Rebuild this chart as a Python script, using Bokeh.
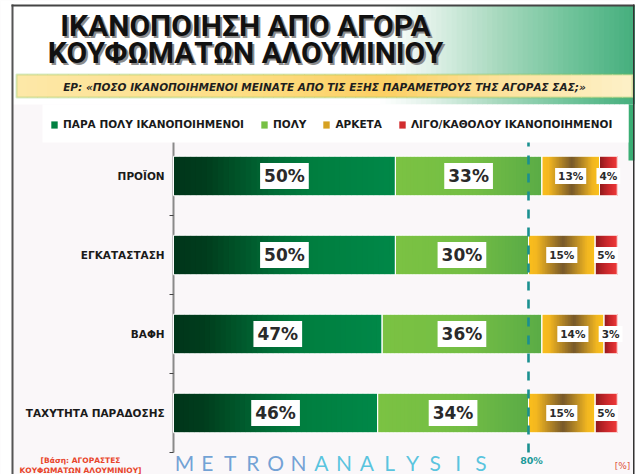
import numpy as np
from bokeh.plotting import figure
from bokeh.models import (Range1d, ColumnDataSource, Label, BoxAnnotation, Legend, LegendItem)
from bokeh.embed import file_html
from bokeh.resources import INLINE
from bokeh.core.properties import value

# ---------------- data ----------------
title_lines = ["ΙΚΑΝΟΠΟΙΗΣΗ ΑΠΟ ΑΓΟΡΑ", "ΚΟΥΦΩΜΑΤΩΝ ΑΛΟΥΜΙΝΙΟΥ"]
question = "ΕΡ: «ΠΟΣΟ ΙΚΑΝΟΠΟΙΗΜΕΝΟΙ ΜΕΙΝΑΤΕ ΑΠΟ ΤΙΣ ΕΞΗΣ ΠΑΡΑΜΕΤΡΟΥΣ ΤΗΣ ΑΓΟΡΑΣ ΣΑΣ;»"
categories = ["ΠΡΟΪΟΝ", "ΕΓΚΑΤΑΣΤΑΣΗ", "ΒΑΦΗ", "ΤΑΧΥΤΗΤΑ ΠΑΡΑΔΟΣΗΣ"]
series_names = ["ΠΑΡΑ ΠΟΛΥ ΙΚΑΝΟΠΟΙΗΜΕΝΟΙ", "ΠΟΛΥ", "ΑΡΚΕΤΑ", "ΛΙΓΟ/ΚΑΘΟΛΟΥ ΙΚΑΝΟΠΟΙΗΜΕΝΟΙ"]
para_poly = [50, 50, 47, 46]
poly = [33, 30, 36, 34]
arketa = [13, 15, 14, 15]
ligo = [4, 5, 3, 5]
threshold = 80
threshold_label = "80%"
base_lines = ["[Βάση: ΑΓΟΡΑΣΤΕΣ", "ΚΟΥΦΩΜΑΤΩΝ ΑΛΟΥΜΙΝΙΟΥ]"]
unit_label = "[%]"
brand_parts = ["METRON", "ANALYSIS"]

series_values = [para_poly, poly, arketa, ligo]

# gradient stops for each series (left -> right inside a segment)
grad_stops = [
    [(0, "#00351a"), (0.15, "#003d1d"), (0.45, "#006c36"), (0.62, "#007e3f"), (1, "#008848")],
    [(0, "#7bc243"), (0.55, "#74be44"), (1, "#5aab46")],
    [(0, "#fbbf1c"), (0.12, "#f3b720"), (0.52, "#77582a"), (0.88, "#f1b621"), (1, "#fbc21b")],
    [(0, "#8c1a1d"), (0.45, "#c4272b"), (1, "#f03a3a")],
]


def hex2rgb(h):
    h = h.lstrip("#")
    return np.array([int(h[i:i + 2], 16) for i in (0, 2, 4)], dtype=float)


def grad_color(stops, t):
    t = min(max(t, 0.0), 1.0)
    for (t0, c0), (t1, c1) in zip(stops[:-1], stops[1:]):
        if t <= t1:
            f = 0 if t1 == t0 else (t - t0) / (t1 - t0)
            c = hex2rgb(c0) * (1 - f) + hex2rgb(c1) * f
            return "#%02x%02x%02x" % tuple(int(round(v)) for v in c)
    return stops[-1][1]


# ---------------- geometry ----------------
W, H = 635, 474
FL = 173            # canvas x of the 0 % line
PPP = 355 / 80      # pixels per percent
ROW = 79            # pixels per category row
Y0 = 452            # canvas y of the lowest category boundary
BG = "#faf7f9"
n = len(categories)
ypos = [n - 1 - i + 0.5 for i in range(n)]

p = figure(width=W, height=H,
           x_range=Range1d(-FL / PPP, (W - FL) / PPP),
           y_range=Range1d(-(H - Y0) / ROW, Y0 / ROW),
           x_axis_location=None, y_axis_location=None,
           toolbar_location=None, output_backend="svg", min_border=0)
p.background_fill_color = BG
p.border_fill_color = BG
p.outline_line_color = None
p.grid.visible = False


def box(x0, y0, x1, y1, color, alpha=1.0, line=None, lw=1, level="underlay"):
    b = BoxAnnotation(left=x0, right=x1, top=H - y0, bottom=H - y1,
                      left_units="screen", right_units="screen",
                      top_units="screen", bottom_units="screen",
                      fill_color=color, fill_alpha=alpha,
                      line_color=line, line_width=lw, level=level)
    p.add_layout(b)
    return b


def label(cx, cy, text, size, color, font="DejaVu Sans", style="bold", align="center", alpha=1.0):
    p.add_layout(Label(x=cx, y=H - cy, x_units="screen", y_units="screen",
                       text=text, text_align=align, text_baseline="middle",
                       text_font=font, text_font_size=f"{size}px",
                       text_font_style=style, text_color=color, text_alpha=alpha))


# ---------------- background decoration ----------------
box(0, 0, W, 5, "white")
box(0, 0, 11, H, "white")
box(12, 5, 634, 104, "white")
hdr_stops = [(0, "#ffffff"), (0.2, "#e0f1e8"), (0.47, "#a6d8bd"), (0.75, "#6fc39a"), (1, "#45ae7d")]
x0h, x1h = 380, 634
nh = 50
for i in range(nh):
    a = x0h + (x1h - x0h) * i / nh
    b = x0h + (x1h - x0h) * (i + 1) / nh
    box(a, 5, b + 0.8, 104, grad_color(hdr_stops, (i + 0.5) / nh))
box(628, 104, 634, 160, "#3aae74")

# question box
sub_stops = [(0, "#fde8a8"), (0.35, "#fdde86"), (0.6, "#fcd064"), (0.8, "#fde3a0"), (1, "#fdf1c8")]
sx0, sx1 = 16, 632
ns = 60
for i in range(ns):
    a = sx0 + (sx1 - sx0) * i / ns
    b = sx0 + (sx1 - sx0) * (i + 1) / ns
    box(a, 74, b + 0.8, 97, grad_color(sub_stops, (i + 0.5) / ns))
box(16, 74, 632, 97, None, alpha=0, line="#78bf4c", lw=2)

# frame lines
box(11, 4, 13, H, "#555555")
box(11, 4, 634, 6, "#444444")
box(632.5, 4, 634, H, "#333333")

# ---------------- category axis (line, boundary ticks, labels) ----------------
p.segment(x0=0, y0=0, x1=0, y1=n, line_color="#8a8a8a", line_width=2)
p.segment(x0=[-0.9] * (n + 1), y0=list(range(n + 1)), x1=[0] * (n + 1), y1=list(range(n + 1)),
          line_color="#444444", line_width=1.2)
p.text(x=[-2.0] * n, y=ypos, text=categories, text_align="right", text_baseline="middle",
       text_font=value("DejaVu Sans"), text_font_style="bold", text_font_size="10.5px",
       text_color="#1a1a1a")

# ---------------- bars (gradient slices) ----------------
N = 40
legend_index = [int(0.7 * N), N // 3, int(0.2 * N), int(0.6 * N)]
renderers = []
cum = [0.0] * n
big = dict(x=[], y=[], t=[])
small = dict(x=[], y=[], t=[])
outline = dict(y=[], left=[], right=[])
for s, vals in enumerate(series_values):
    ys, lefts, rights, cols = [], [], [], []
    for c in range(n):
        start = cum[c]
        v = vals[c]
        edges = np.linspace(start, start + v, N + 1)
        for k in range(N):
            ys.append(ypos[c])
            lefts.append(edges[k])
            rights.append(edges[k + 1] + (0.25 if k < N - 1 else 0))
            cols.append(grad_color(grad_stops[s], (k + 0.5) / N))
        outline["y"].append(ypos[c])
        outline["left"].append(start)
        outline["right"].append(start + v)
        target = big if s < 2 else small
        target["x"].append(start + v / 2)
        target["y"].append(ypos[c])
        target["t"].append(f"{v}%")
        cum[c] += v
    src = ColumnDataSource(dict(y=ys, left=lefts, right=rights, color=cols))
    r = p.hbar(y="y", left="left", right="right", height=0.5, fill_color="color",
               line_color=None, source=src)
    renderers.append(r)

p.hbar(y="y", left="left", right="right", height=0.5, fill_color=None,
       line_color="white", line_width=1, source=ColumnDataSource(outline))

p.text(x="x", y="y", text="t", source=ColumnDataSource(big),
       text_align="center", text_baseline="middle",
       text_font=value("DejaVu Sans"), text_font_style="bold", text_font_size="17px",
       text_color="#2a2a2a", background_fill_color="white", padding=(4, 3))
p.text(x="x", y="y", text="t", source=ColumnDataSource(small),
       text_align="center", text_baseline="middle",
       text_font=value("DejaVu Sans"), text_font_style="bold", text_font_size="10.5px",
       text_color="#2a2a2a", background_fill_color="white", padding=(3, 2))

# threshold line
p.segment(x0=threshold, y0=0, x1=threshold, y1=n, line_color="#1b9090",
          line_width=2.6, line_dash="9 9")
p.add_layout(Label(x=threshold, y=H - 460, x_units="data", y_units="screen",
                   text=threshold_label, text_align="center", text_baseline="middle",
                   text_font="DejaVu Sans", text_font_style="bold", text_font_size="9.5px",
                   text_color="#1a9a9a", x_offset=3))

# legend box + legend
box(42, 104, 628, 142, "white", level="annotation")
items = [LegendItem(label=name, renderers=[r], index=legend_index[i])
         for i, (name, r) in enumerate(zip(series_names, renderers))]
legend = Legend(items=items, orientation="horizontal", location=(50, H - 130),
                background_fill_alpha=0, border_line_color=None, padding=0, margin=0,
                spacing=16, glyph_width=8, glyph_height=9, label_standoff=5,
                label_height=12, label_text_font="DejaVu Sans", label_text_font_style="bold",
                label_text_font_size="10.5px", label_text_color="#1a1a1a")
p.add_layout(legend)

# ---------------- texts ----------------
for i, line in enumerate(title_lines):
    cy = 25 + i * 27
    label(247, cy + 2, line, 30, "#8c8c8c", font="Roboto")
    label(245, cy, line, 30, "#111111", font="Roboto")
label(324, 86, question, 10.5, "#1e1e1e", style="bold italic")

label(80, 460, base_lines[0], 7.5, "#e8442a")
label(80, 470, base_lines[1], 7.5, "#e8442a")
label(622, 465, unit_label, 9, "#e0503a", style="normal")

letters = list(brand_parts[0] + brand_parts[1])
for i, ch in enumerate(letters):
    col = "#5b93cf" if i < len(brand_parts[0]) else "#3dbbd9"
    label(184 + i * 22.8, 462, ch, 21, col, font="Lato", style="normal", alpha=0.85)

open("out.html", "w").write(file_html(p, INLINE))
